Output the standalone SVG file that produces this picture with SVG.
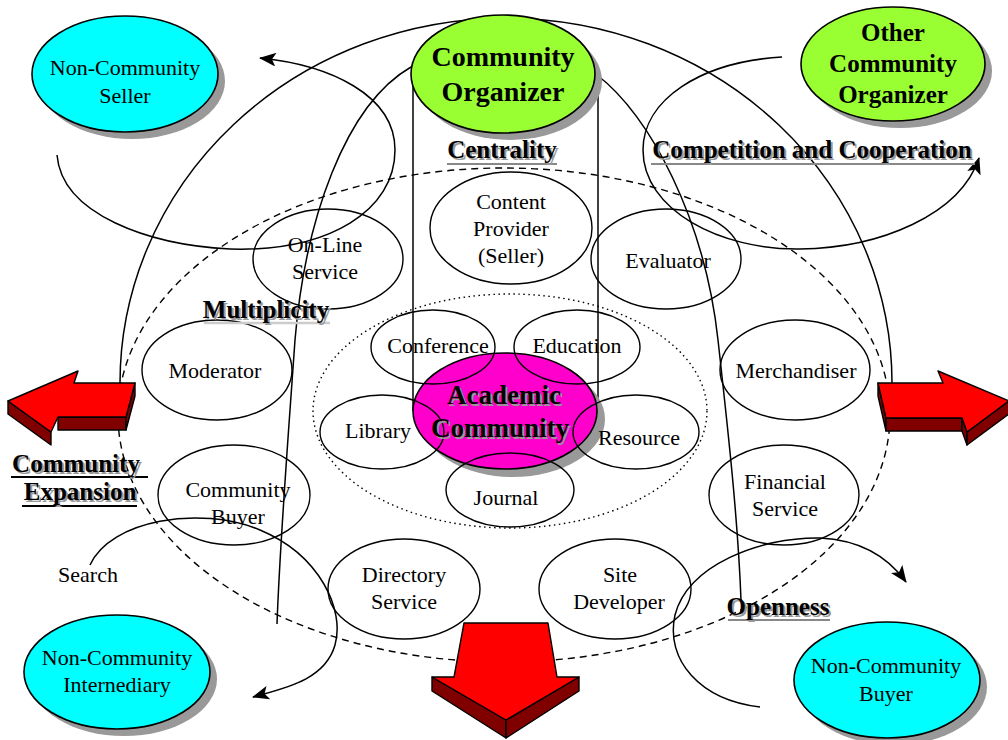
<svg xmlns="http://www.w3.org/2000/svg" width="1008" height="740" viewBox="0 0 1008 740">
<style>
.o{fill:none;stroke:#000;stroke-width:1.4}
.ln{fill:none;stroke:#000;stroke-width:1.5}
.dash{fill:none;stroke:#000;stroke-width:1.4;stroke-dasharray:7,5}
.dot{fill:none;stroke:#000;stroke-width:1.4;stroke-dasharray:1.5,3.5}
.t{font-family:"Liberation Serif","Times New Roman",serif;font-size:22px;text-anchor:middle;fill:#000}
.b{font-weight:bold;font-size:25px}
.sh{fill:#999}
.shd{fill:#999}
.cy{fill:#00ffff;stroke:#000;stroke-width:1.6}
.gr{fill:#99ff33;stroke:#000;stroke-width:1.6}
.mg{fill:#ff00cc;stroke:#000;stroke-width:1.6}
.red{fill:#ff0000;stroke:#000;stroke-width:1.4;stroke-linejoin:round}
.dk{fill:#800000;stroke:#000;stroke-width:1.4;stroke-linejoin:round}
.ul{stroke:#888;stroke-width:2.2}
.ulk{stroke:#000;stroke-width:2}
</style>
<defs>
<marker id="ah" markerWidth="18" markerHeight="14" refX="16" refY="7" orient="auto" markerUnits="userSpaceOnUse">
<path d="M0,0 L17,7 L0,14 L4,7 z" fill="#000"/>
</marker>
</defs>
<rect width="1008" height="740" fill="#fff"/>

<g id="regions">
<ellipse class="dash" cx="504" cy="415" rx="386" ry="247"/>
<ellipse class="dot" cx="510" cy="411" rx="197" ry="117"/>
</g>

<g id="connectors">
<line class="ln" x1="413" y1="74" x2="413" y2="411"/>
<line class="ln" x1="598" y1="74" x2="598" y2="411"/>
<path class="ln" d="M120,383 A386,365 0 0,1 892,383"/>
<path class="ln" d="M57,155 C62,215 150,245 230,249 C330,252 395,210 395,150 C395,95 330,65 260,58" marker-end="url(#ah)"/>
<path class="ln" d="M782,57 C700,62 643,100 643,150 C643,210 720,250 800,249 C880,248 960,215 979,158" marker-end="url(#ah)"/>
<path class="ln" d="M411,67 C345,105 305,220 295,340 C288,440 280,540 277,624"/>
<path class="ln" d="M597,75 C650,115 705,220 718,340 C728,430 738,520 741,600"/>
<path class="ln" d="M90,565 C110,520 200,505 260,530 C320,555 345,610 335,645 C325,680 285,688 253,697" marker-end="url(#ah)"/>
<path class="ln" d="M760,707 C700,700 665,660 675,615 C688,565 760,537 820,538 C860,540 888,557 906,582" marker-end="url(#ah)"/>
</g>

<g id="non-community-seller">
<ellipse class="shd" cx="132" cy="81" rx="93" ry="58"/>
<ellipse class="cy" cx="125" cy="74" rx="93" ry="58"/>
<text class="t" x="125" y="75">Non-Community</text>
<text class="t" x="125" y="103">Seller</text>
</g>

<g id="community-organizer">
<ellipse class="shd" cx="510" cy="81" rx="92" ry="59"/>
<ellipse class="gr" cx="503" cy="74" rx="92" ry="59"/>
<text class="t b" x="503" y="66" style="font-size:28px">Community</text>
<text class="t b" x="503" y="101" style="font-size:28px">Organizer</text>
</g>

<g id="other-community-organizer">
<ellipse class="shd" cx="900" cy="71" rx="92" ry="57"/>
<ellipse class="gr" cx="893" cy="64" rx="92" ry="57"/>
<text class="t b" x="893" y="41">Other</text>
<text class="t b" x="893" y="72">Community</text>
<text class="t b" x="893" y="103">Organizer</text>
</g>

<g id="non-community-interediary">
<ellipse class="shd" cx="124" cy="679" rx="93" ry="57"/>
<ellipse class="cy" cx="117" cy="672" rx="93" ry="57"/>
<text class="t" x="117" y="665">Non-Community</text>
<text class="t" x="117" y="692">Internediary</text>
</g>

<g id="non-community-buyer">
<ellipse class="shd" cx="894" cy="687" rx="93" ry="58"/>
<ellipse class="cy" cx="887" cy="680" rx="93" ry="58"/>
<text class="t" x="886" y="673">Non-Community</text>
<text class="t" x="886" y="701">Buyer</text>
</g>

<g id="content-provider">
<ellipse class="o" cx="511" cy="228" rx="81" ry="56"/>
<text class="t" x="511" y="209">Content</text>
<text class="t" x="511" y="236">Provider</text>
<text class="t" x="511" y="263">(Seller)</text>
</g>
<g id="on-line-service">
<ellipse class="o" cx="328" cy="259" rx="75" ry="50"/>
<text class="t" x="325" y="252">On-Line</text>
<text class="t" x="325" y="279">Service</text>
</g>
<g id="evaluator">
<ellipse class="o" cx="666" cy="259" rx="75" ry="50"/>
<text class="t" x="668" y="268">Evaluator</text>
</g>
<g id="moderator">
<ellipse class="o" cx="217" cy="370" rx="75" ry="50"/>
<text class="t" x="215" y="378">Moderator</text>
</g>
<g id="merchandiser">
<ellipse class="o" cx="795" cy="370" rx="75" ry="50"/>
<text class="t" x="796" y="378">Merchandiser</text>
</g>
<g id="community-buyer">
<ellipse class="o" cx="234" cy="495" rx="76" ry="50"/>
<text class="t" x="238" y="497">Community</text>
<text class="t" x="238" y="524">Buyer</text>
</g>
<g id="financial-service">
<ellipse class="o" cx="784" cy="495" rx="75" ry="50"/>
<text class="t" x="785" y="489">Financial</text>
<text class="t" x="785" y="516">Service</text>
</g>
<g id="directory-service">
<ellipse class="o" cx="404" cy="589" rx="76" ry="50"/>
<text class="t" x="404" y="582">Directory</text>
<text class="t" x="404" y="609">Service</text>
</g>
<g id="site-developer">
<ellipse class="o" cx="615" cy="589" rx="76" ry="50"/>
<text class="t" x="620" y="582">Site</text>
<text class="t" x="619" y="609">Developer</text>
</g>

<g id="academic-community">
<ellipse class="shd" cx="513" cy="419" rx="92" ry="58"/>
<ellipse class="mg" cx="505" cy="411" rx="92" ry="58"/>
</g>
<g id="conference">
<ellipse class="o" cx="433" cy="347" rx="62" ry="37"/>
<text class="t" x="438" y="353">Conference</text>
</g>
<g id="education">
<ellipse class="o" cx="577" cy="347" rx="63" ry="37"/>
<text class="t" x="577" y="353">Education</text>
</g>
<g id="library">
<ellipse class="o" cx="382" cy="432" rx="62" ry="37"/>
<text class="t" x="378" y="438">Library</text>
</g>
<g id="resource">
<ellipse class="o" cx="636" cy="432" rx="63" ry="37"/>
<text class="t" x="639" y="445">Resource</text>
</g>
<g id="journal">
<ellipse class="o" cx="510" cy="490" rx="64" ry="37"/>
<text class="t" x="506" y="505">Journal</text>
</g>
<g id="academic-community-label">
<text class="t b sh" x="506" y="406" style="font-size:27px">Academic</text>
<text class="t b sh" x="502" y="439" style="font-size:27px">Community</text>
<text class="t b" x="504" y="404" style="font-size:27px">Academic</text>
<text class="t b" x="500" y="437" style="font-size:27px">Community</text>
</g>

<g id="labels">
<text class="t" x="88" y="582">Search</text>
<line class="ul" x1="447" y1="164" x2="557" y2="164"/>
<text class="t b sh" x="504" y="160">Centrality</text>
<text class="t b" x="502" y="158">Centrality</text>
<line class="ul" x1="651" y1="164" x2="975" y2="164"/>
<text class="t b sh" x="814" y="160">Competition and Cooperation</text>
<text class="t b" x="812" y="158">Competition and Cooperation</text>
<line stroke="#ccc" stroke-width="2.5" x1="204" y1="323" x2="330" y2="323"/>
<text class="t b sh" x="268" y="320">Multiplicity</text>
<text class="t b" x="266" y="318">Multiplicity</text>
<line class="ul" x1="728" y1="620" x2="830" y2="620"/>
<text class="t b sh" x="780" y="617">Openness</text>
<text class="t b" x="778" y="615">Openness</text>
<line class="ulk" x1="11" y1="477" x2="148" y2="477"/>
<line class="ulk" x1="22" y1="506" x2="137" y2="506"/>
<text class="t b sh" x="78" y="474">Community</text>
<text class="t b" x="76" y="472">Community</text>
<text class="t b sh" x="82" y="502">Expansion</text>
<text class="t b" x="80" y="500">Expansion</text>
</g>

<g id="arrow-left">
<polygon class="dk" points="8,401 51,432 51,445 8,414"/>
<polygon class="dk" points="58,417 126,417 126,430 58,430"/>
<polygon class="dk" points="135,383 126,417 126,430 135,396"/>
<polygon class="red" points="8,401 78,371 74,383 135,383 126,417 58,417 51,432"/>
</g>
<g id="arrow-right">
<polygon class="dk" points="878,383 886,418 886,431 878,396"/>
<polygon class="dk" points="886,418 962,418 962,431 886,431"/>
<polygon class="dk" points="962,418 967,432 967,445 962,431"/>
<polygon class="dk" points="967,432 1009,401 1009,414 967,445"/>
<polygon class="red" points="878,383 943,383 938,371 1009,401 967,432 962,418 886,418"/>
</g>
<g id="arrow-down">
<polygon class="dk" points="432,677 506,720 506,738 432,691"/>
<polygon class="dk" points="506,720 579,677 579,691 506,738"/>
<polygon class="red" points="464,623 548,623 557,677 579,677 506,720 432,677 454,677"/>
</g>
</svg>
